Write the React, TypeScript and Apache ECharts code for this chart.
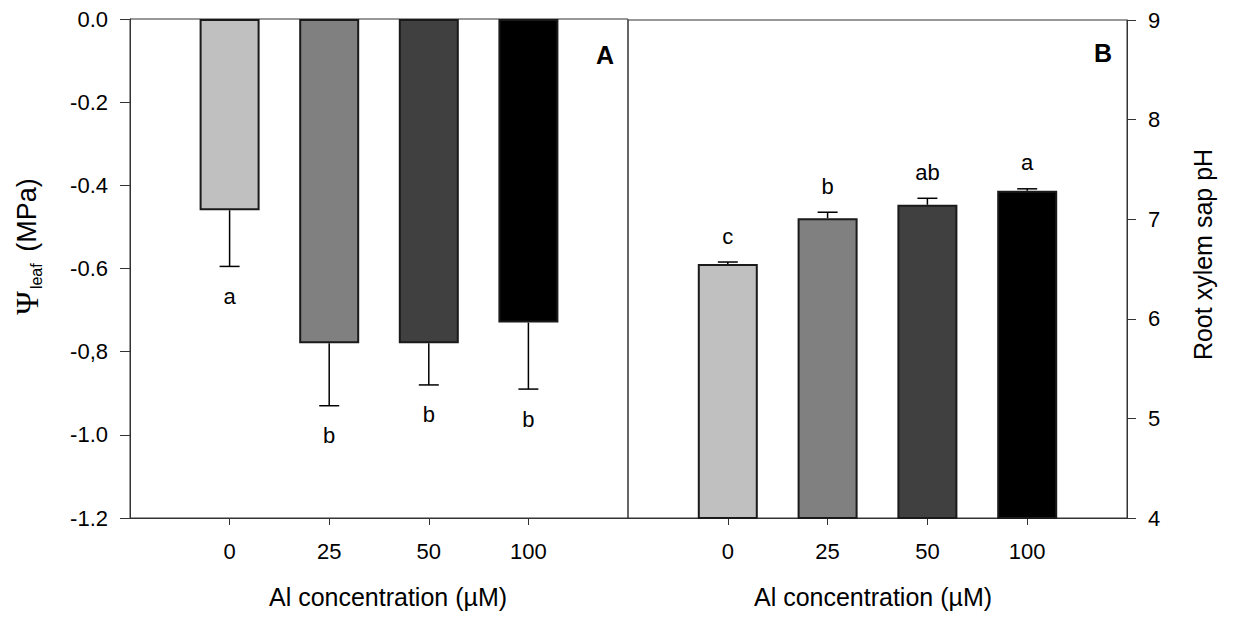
import React, { useEffect, useRef } from "react";
import * as echarts from "echarts";

// Al treatment levels (µM) and their slot on the x scale
const doses = ["0", "25", "50", "100"];
const slots = [1, 2, 3, 4];

// Panel A: leaf water potential (MPa), SE and significance letters
const psiLeaf = [-0.46, -0.78, -0.78, -0.73];
const psiLeafSE = [0.135, 0.15, 0.1, 0.16];
const psiLetters = ["a", "b", "b", "b"];
const psiTickLabels = ["-1.2", "-1.0", "-0,8", "-0.6", "-0.4", "-0.2", "0.0"];

// Panel B: root xylem sap pH, SE and significance letters
const sapPH = [6.55, 7.01, 7.145, 7.285];
const sapPHSE = [0.02, 0.06, 0.065, 0.02];
const phLetters = ["c", "b", "ab", "a"];
const phTickLabels = ["4", "5", "6", "7", "8", "9"];

const barColors = ["#c0c0c0", "#808080", "#404040", "#000000"];

const FONT = 'Arial, "Liberation Sans", Helvetica, sans-serif';
const SERIF = '"Liberation Serif", "DejaVu Serif", serif';
const AXIS_COLOR = "#333";

function xAxisFor(gridIndex: number, namePadding: number[]) {
  return {
    type: "value",
    gridIndex,
    min: 0,
    max: 5,
    interval: 1,
    axisLine: { show: true, onZero: false, lineStyle: { color: AXIS_COLOR, width: 1 } },
    axisTick: {
      show: true,
      inside: false,
      length: 7,
      customValues: slots,
      lineStyle: { color: AXIS_COLOR, width: 1 },
    },
    axisLabel: {
      customValues: slots,
      formatter: (v: number) => doses[Math.round(v) - 1] ?? "",
      fontSize: 22,
      fontFamily: FONT,
      color: "#000",
      margin: 22,
    },
    splitLine: { show: false },
    name: "Al concentration (\u00b5M)",
    nameLocation: "middle",
    nameGap: 66,
    nameTextStyle: {
      fontSize: 25,
      fontFamily: FONT,
      color: "#000",
      padding: namePadding,
    },
  };
}

function errorSeries(
  xAxisIndex: number,
  yAxisIndex: number,
  means: number[],
  errs: number[],
  letters: string[],
  dir: number,
  letterOffset: number
) {
  return {
    type: "custom",
    xAxisIndex,
    yAxisIndex,
    clip: false,
    z: 5,
    encode: { x: 0, y: 1 },
    data: slots.map((s, i) => [s, means[i], errs[i]]),
    renderItem: (params: any, api: any) => {
      const x = api.value(0);
      const m = api.value(1);
      const e = api.value(2);
      const p0 = api.coord([x, m]);
      const p1 = api.coord([x, m + dir * e]);
      const stroke = { stroke: "#000", lineWidth: 1.5 };
      return {
        type: "group",
        children: [
          { type: "line", shape: { x1: p0[0], y1: p0[1], x2: p1[0], y2: p1[1] }, style: stroke },
          { type: "line", shape: { x1: p1[0] - 10, y1: p1[1], x2: p1[0] + 10, y2: p1[1] }, style: stroke },
          {
            type: "text",
            x: p1[0],
            y: p1[1] + letterOffset,
            style: {
              text: letters[params.dataIndex],
              fontSize: 22,
              fontFamily: FONT,
              fill: "#000",
              align: "center",
              verticalAlign: "middle",
            },
          },
        ],
      };
    },
  };
}

function barSeries(xAxisIndex: number, yAxisIndex: number, values: number[]) {
  return {
    type: "bar",
    xAxisIndex,
    yAxisIndex,
    barWidth: 60,
    clip: true,
    data: slots.map((s, i) => ({
      value: [s, values[i]],
      itemStyle: { color: barColors[i] },
    })),
    itemStyle: { borderColor: "#1a1a1a", borderWidth: 2 },
  };
}

export default function App() {
  const ref = useRef<HTMLDivElement>(null);

  useEffect(() => {
    if (!ref.current) return;
    const chart = echarts.init(ref.current, null, { renderer: "svg" });

    const option: any = {
      animation: false,
      backgroundColor: "#fff",
      textStyle: { fontFamily: FONT },
      grid: [
        { left: 130, top: 19, width: 498, height: 499, show: true, borderColor: AXIS_COLOR, borderWidth: 1, backgroundColor: "transparent" },
        { left: 628, top: 20, width: 499, height: 498, show: true, borderColor: AXIS_COLOR, borderWidth: 1, backgroundColor: "transparent" },
      ],
      xAxis: [xAxisFor(0, [0, 0, 0, 18]), xAxisFor(1, [0, 9, 0, 0])],
      yAxis: [
        {
          type: "value",
          gridIndex: 0,
          position: "left",
          min: -1.2,
          max: 0,
          interval: 0.2,
          axisLine: { show: true, onZero: false, lineStyle: { color: AXIS_COLOR, width: 1 } },
          axisTick: { show: true, inside: false, length: 10, lineStyle: { color: AXIS_COLOR } },
          axisLabel: {
            formatter: (v: number) => psiTickLabels[Math.round((v + 1.2) / 0.2)] ?? "",
            fontSize: 22,
            fontFamily: FONT,
            color: "#000",
            margin: 22,
          },
          splitLine: { show: false },
          name: "{psi|\u03a8}{sub|leaf}{n| (MPa)}",
          nameLocation: "middle",
          nameRotate: 90,
          nameGap: 86,
          nameTextStyle: {
            padding: [0, 0, 0, 44],
            rich: {
              psi: { fontSize: 32, fontFamily: SERIF, color: "#000", lineHeight: 34, verticalAlign: "middle" },
              sub: { fontSize: 16, fontFamily: FONT, color: "#000", lineHeight: 16, verticalAlign: "bottom", padding: [0, 4, 0, 2] },
              n: { fontSize: 27, fontFamily: FONT, color: "#000", lineHeight: 34, verticalAlign: "middle" },
            },
          },
        },
        {
          type: "value",
          gridIndex: 1,
          position: "right",
          min: 4,
          max: 9,
          interval: 1,
          axisLine: { show: true, onZero: false, lineStyle: { color: AXIS_COLOR, width: 1 } },
          axisTick: { show: true, inside: false, length: 9, lineStyle: { color: AXIS_COLOR } },
          axisLabel: {
            formatter: (v: number) => phTickLabels[Math.round(v - 4)] ?? "",
            fontSize: 22,
            fontFamily: FONT,
            color: "#000",
            margin: 21,
          },
          splitLine: { show: false },
          name: "Root xylem sap pH",
          nameLocation: "middle",
          nameRotate: 90,
          nameGap: 63,
          nameTextStyle: {
            fontSize: 25,
            fontFamily: FONT,
            color: "#000",
            padding: [0, 0, 0, 29],
          },
        },
      ],
      series: [
        barSeries(0, 0, psiLeaf),
        errorSeries(0, 0, psiLeaf, psiLeafSE, psiLetters, -1, 30),
        barSeries(1, 1, sapPH),
        errorSeries(1, 1, sapPH, sapPHSE, phLetters, 1, -26),
      ],
      graphic: [
        { type: "text", x: 605, y: 55, style: { text: "A", fontSize: 25, fontWeight: "bold", fontFamily: FONT, fill: "#000", align: "center", verticalAlign: "middle" } },
        { type: "text", x: 1103, y: 53, style: { text: "B", fontSize: 25, fontWeight: "bold", fontFamily: FONT, fill: "#000", align: "center", verticalAlign: "middle" } },
      ],
    };

    chart.setOption(option);
    return () => chart.dispose();
  }, []);

  return (
    <div
      ref={ref}
      style={{ position: "fixed", left: 0, top: 0, width: 1238, height: 619, background: "#fff" }}
    />
  );
}
